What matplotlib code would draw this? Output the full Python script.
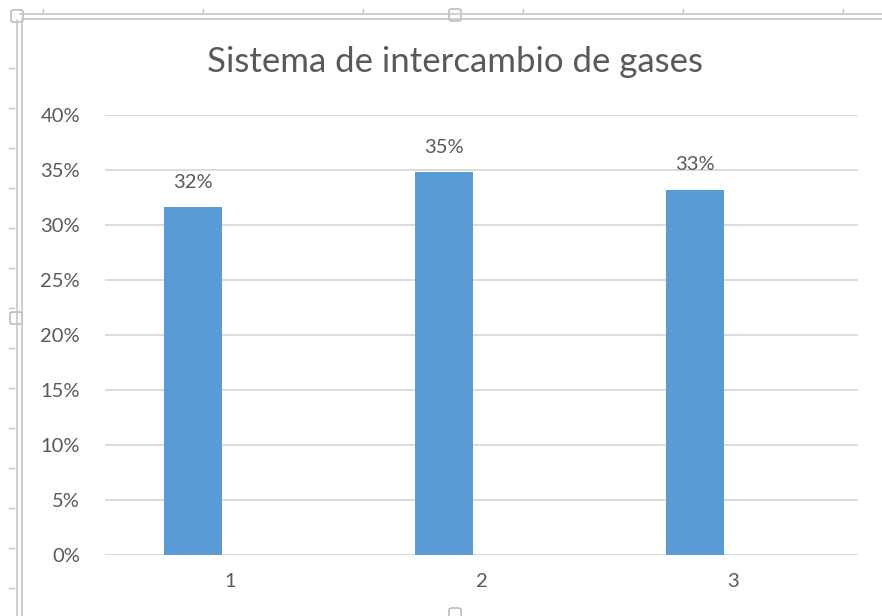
import matplotlib.pyplot as plt
from matplotlib.patches import FancyBboxPatch
from matplotlib.lines import Line2D

plt.rcParams['font.family'] = ['Lato', 'DejaVu Sans']

categories = ['1', '2', '3']
values = [0.316, 0.348, 0.332]
yticks = [0.0, 0.05, 0.10, 0.15, 0.20, 0.25, 0.30, 0.35, 0.40]

bar_color = '#5B9BD5'
text_color = '#595959'
grid_color = '#D9D9D9'

W, H = 882, 616
fig = plt.figure(figsize=(W / 100, H / 100), dpi=100)

def fx(px):
    return px / W

def fy(py):
    return 1 - py / H

ax = fig.add_axes([fx(105), fy(555), fx(858) - fx(105), fy(115) - fy(555)])

xpos = list(range(len(categories)))
bar_x = [x - 0.148 for x in xpos]
bars = ax.bar(bar_x, values, width=0.23, color=bar_color, zorder=3)

for b, v in zip(bars, values):
    ax.annotate(f'{v:.0%}', (b.get_x() + b.get_width() / 2, v),
                xytext=(0, 18), textcoords='offset points',
                ha='center', va='center', fontsize=14.5, color=text_color)

ax.set_xlim(-0.5, 2.5)
ax.set_ylim(0, 0.40)
ax.set_yticks(yticks)
ax.set_yticklabels([f'{t:.0%}' for t in yticks])
ax.set_xticks(xpos)
ax.set_xticklabels(categories)
ax.tick_params(axis='both', length=0, labelsize=14.5, labelcolor=text_color)
ax.tick_params(axis='y', pad=18)
ax.tick_params(axis='x', pad=13)
ax.grid(axis='y', color=grid_color, linewidth=1.3, zorder=0)
for s in ax.spines.values():
    s.set_visible(False)

fig.text(fx(455), fy(62), 'Sistema de intercambio de gases',
         ha='center', va='center', fontsize=25, color=text_color)

# selection frame of the chart object
frame = '#C6C6C6'
fig.add_artist(Line2D([fx(20), 1], [fy(14), fy(14)], color=frame, lw=1.2))
fig.add_artist(Line2D([fx(22), 1], [fy(19), fy(19)], color=frame, lw=1.2))
fig.add_artist(Line2D([fx(17), fx(17)], [fy(20), 0], color=frame, lw=1.2))
fig.add_artist(Line2D([fx(22), fx(22)], [fy(20), 0], color=frame, lw=1.2))

# ruler ticks
for px in range(43, W, 160):
    fig.add_artist(Line2D([fx(px), fx(px)], [fy(9), fy(13)], color=frame, lw=1))
for py in range(68, H, 40):
    fig.add_artist(Line2D([fx(9), fx(14)], [fy(py), fy(py)], color=frame, lw=1))

# sizing handles
for cx, cy in [(455, 15), (16, 318), (455, 614), (17, 16)]:
    fig.add_artist(FancyBboxPatch((fx(cx - 6), fy(cy + 6)), fx(12), fy(0) - fy(12),
                                  boxstyle='round,pad=0,rounding_size=0.003',
                                  facecolor='white', edgecolor='#B0B0B0', lw=1))

fig.savefig('out.png', dpi=100)
